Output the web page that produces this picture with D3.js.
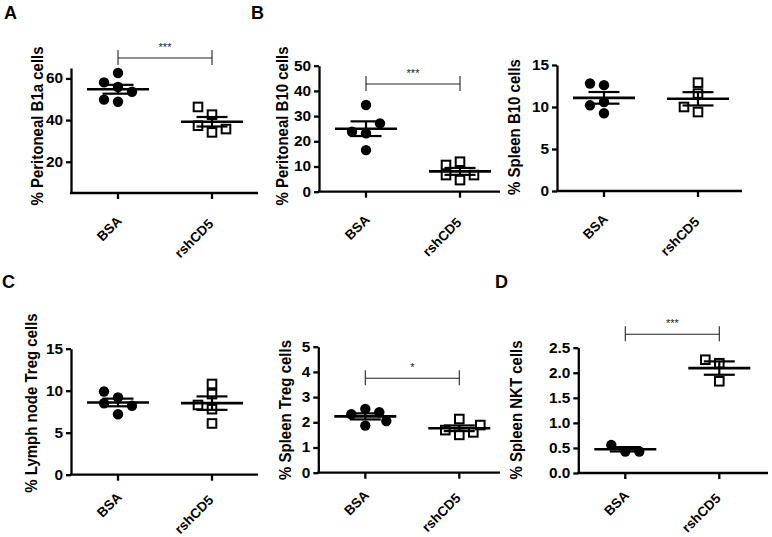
<!DOCTYPE html>
<html><head><meta charset="utf-8">
<script src="https://cdn.jsdelivr.net/npm/d3@7"></script>
<style>
body{margin:0;background:#fff;}
svg{display:block;}
text{font-family:Arial,"Liberation Sans",sans-serif;}
</style></head><body>
<svg id="chart" width="772" height="537"></svg>
<script>
// ---- data ----
const groups = ["BSA", "rshCD5"];
const b1aBSA = [55.9, 48.8, 58.1, 53.6, 62.6, 49.8];
const b1aRsh = [42.6, 34.1, 46.3, 37.3, 35.7];
const perB10BSA = [34.4, 23.2, 16.5, 23.8, 27.1];
const perB10Rsh = [11.9, 4.6, 6.6, 6.6, 10.6];
const splB10BSA = [12.6, 9.25, 12.8, 10.6, 10.2];
const splB10Rsh = [11.6, 9.4, 12.9, 10.0];
const lnTregBSA = [9.2, 7.2, 9.9, 8.5, 8.2];
const lnTregRsh = [10.8, 7.8, 6.1, 8.3, 9.6];
const splTregBSA = [2.53, 1.87, 2.32, 2.40, 2.05];
const splTregRsh = [1.50, 2.13, 1.69, 1.60, 1.89];
const nktBSA = [0.43, 0.56, 0.43];
const nktRsh = [2.19, 1.83, 2.26];
const ticksA = [20, 40, 60];
const ticksB1 = [0, 10, 20, 30, 40, 50];
const ticksB2 = [0, 5, 10, 15];
const ticksC1 = [0, 5, 10, 15];
const ticksC2 = [0, 1, 2, 3, 4, 5];
const ticksD = [0, 0.5, 1.0, 1.5, 2.0, 2.5];

// ---- layout ----
const panels = [
  {letter:"A", lx:4, ly:19, label:"% Peritoneal B1a cells", bsa:b1aBSA, rsh:b1aRsh, dom:[5,65], ticks:ticksA, fmt:d3.format("d"),
   ax:71, axEnd:258, top:68, bot:193, labX:37, labY:126, catDy:24.5, sig:"***", sigY:58},
  {letter:"B", lx:251, ly:19, label:"% Peritoneal B10 cells", bsa:perB10BSA, rsh:perB10Rsh, dom:[0,50], ticks:ticksB1, fmt:d3.format("d"),
   ax:319, axEnd:500, top:65.7, bot:191.7, labX:282, labY:126, catDy:24.5, sig:"***", sigY:84},
  {letter:null, label:"% Spleen B10 cells", bsa:splB10BSA, rsh:splB10Rsh, dom:[0,15], ticks:ticksB2, fmt:d3.format("d"),
   ax:557, axEnd:742, top:65, bot:191, labX:514, labY:127, catDy:24.5, sig:null},
  {letter:"C", lx:2, ly:288, label:"% Lymph node Treg cells", bsa:lnTregBSA, rsh:lnTregRsh, dom:[0,15], ticks:ticksC1, fmt:d3.format("d"),
   ax:71, axEnd:258, top:348.7, bot:474.7, labX:31, labY:403, catDy:19, sig:null},
  {letter:null, label:"% Spleen Treg cells", bsa:splTregBSA, rsh:splTregRsh, dom:[0,5], ticks:ticksC2, fmt:d3.format("d"),
   ax:318.3, axEnd:500, top:346.7, bot:472.7, labX:285, labY:410, catDy:19, sig:"*", sigY:378.3},
  {letter:"D", lx:495, ly:288, label:"% Spleen NKT cells", bsa:nktBSA, rsh:nktRsh, dom:[0,2.5], ticks:ticksD, fmt:d3.format(".1f"),
   ax:578.3, axEnd:768, top:347.7, bot:473, labX:516, labY:410, catDy:19, sig:"***", sigY:334.3}
];

const svg = d3.select("#chart");
const STEP = 14, MIN_D = 10, R = 5.2, SQ = 8.6;
const TICK_SX = 1.1, LABEL_SY = 1.15;
const SLOTS = [0, -1, 1, -0.5, 0.5, -1.5, 1.5, -2, 2];

function dodge(vals, y) {
  const placed = [];
  return vals.map(v => {
    const py = y(v);
    for (const k of SLOTS) {
      const px = k * STEP;
      if (placed.every(p => Math.hypot(p.x - px, p.y - py) >= MIN_D)) {
        placed.push({x: px, y: py});
        return px;
      }
    }
    return 0;
  });
}

panels.forEach(p => {
  const g = svg.append("g");
  const y = d3.scaleLinear().domain(p.dom).range([p.bot, p.top]);
  const x = d3.scalePoint().domain(groups).range([p.ax + 47, p.ax + 141]);

  // y axis
  const yAxis = d3.axisLeft(y).tickValues(p.ticks).tickFormat(p.fmt).tickSize(5).tickPadding(3).tickSizeOuter(0);
  const ya = g.append("g").attr("transform", `translate(${p.ax},0)`).call(yAxis);
  ya.select(".domain").attr("stroke", "#000").attr("stroke-width", 2.3);
  ya.selectAll(".tick line").attr("stroke", "#000").attr("stroke-width", 2.3);
  ya.selectAll(".tick text").attr("font-size", 14).attr("font-weight", "bold").attr("fill", "#000")
    .attr("font-family", "Arial, 'Liberation Sans', sans-serif")
    .attr("x", -8 / TICK_SX).attr("transform", `scale(${TICK_SX},1)`);

  // x axis line
  g.append("line").attr("x1", p.ax - 1.1).attr("x2", p.axEnd).attr("y1", p.bot).attr("y2", p.bot)
    .attr("stroke", "#000").attr("stroke-width", 2.3);
  groups.forEach(c => {
    g.append("line").attr("x1", x(c)).attr("x2", x(c)).attr("y1", p.bot).attr("y2", p.bot + 6)
      .attr("stroke", "#000").attr("stroke-width", 2.3);
    const t = g.append("text").text(c)
      .attr("text-anchor", "end").attr("font-size", 13.5).attr("font-weight", "bold");
    const L = t.node().getComputedTextLength();
    t.attr("transform", `translate(${x(c) + 8 - 0.12 * L},${p.bot + p.catDy + 0.15 * L}) rotate(-45)`);
  });

  // y label
  g.append("text").text(p.label)
    .attr("transform", `translate(${p.labX},${p.labY}) rotate(-90) scale(1,${LABEL_SY})`)
    .attr("text-anchor", "middle").attr("dominant-baseline", "central")
    .attr("font-size", 15).attr("font-weight", "bold");

  // panel letter
  if (p.letter) {
    svg.append("text").text(p.letter).attr("x", p.lx).attr("y", p.ly)
      .attr("font-size", 18).attr("font-weight", "bold");
  }

  // points + mean/sem
  [[groups[0], p.bsa, "circle"], [groups[1], p.rsh, "square"]].forEach(([c, vals, shape]) => {
    const cx = x(c);
    const offs = dodge(vals, y);
    if (shape === "circle") {
      g.selectAll(null).data(vals).enter().append("circle")
        .attr("cx", (d, i) => cx + offs[i]).attr("cy", d => y(d)).attr("r", R).attr("fill", "#000");
    } else {
      g.selectAll(null).data(vals).enter().append("rect")
        .attr("x", (d, i) => cx + offs[i] - SQ / 2).attr("y", d => y(d) - SQ / 2)
        .attr("width", SQ).attr("height", SQ).attr("fill", "#fff").attr("stroke", "#000").attr("stroke-width", 2);
    }
    const m = d3.mean(vals);
    const sem = d3.deviation(vals) / Math.sqrt(vals.length);
    g.append("line").attr("x1", cx - 31).attr("x2", cx + 31).attr("y1", y(m)).attr("y2", y(m))
      .attr("stroke", "#000").attr("stroke-width", 2.6);
    g.append("line").attr("x1", cx).attr("x2", cx).attr("y1", y(m - sem)).attr("y2", y(m + sem))
      .attr("stroke", "#000").attr("stroke-width", 2.2);
    [m - sem, m + sem].forEach(v => {
      g.append("line").attr("x1", cx - 15.5).attr("x2", cx + 15.5).attr("y1", y(v)).attr("y2", y(v))
        .attr("stroke", "#000").attr("stroke-width", 2.2);
    });
  });

  // significance bracket
  if (p.sig) {
    const x1 = x(groups[0]), x2 = x(groups[1]);
    g.append("line").attr("x1", x1).attr("x2", x2).attr("y1", p.sigY).attr("y2", p.sigY)
      .attr("stroke", "#222").attr("stroke-width", 1.1);
    [x1, x2].forEach(xx => g.append("line").attr("x1", xx).attr("x2", xx)
      .attr("y1", p.sigY - 8).attr("y2", p.sigY + 7).attr("stroke", "#222").attr("stroke-width", 1.1));
    g.append("text").text(p.sig).attr("x", (x1 + x2) / 2).attr("y", p.sigY - 7)
      .attr("text-anchor", "middle").attr("font-size", 11).attr("fill", "#222");
  }
});
</script>
</body></html>
